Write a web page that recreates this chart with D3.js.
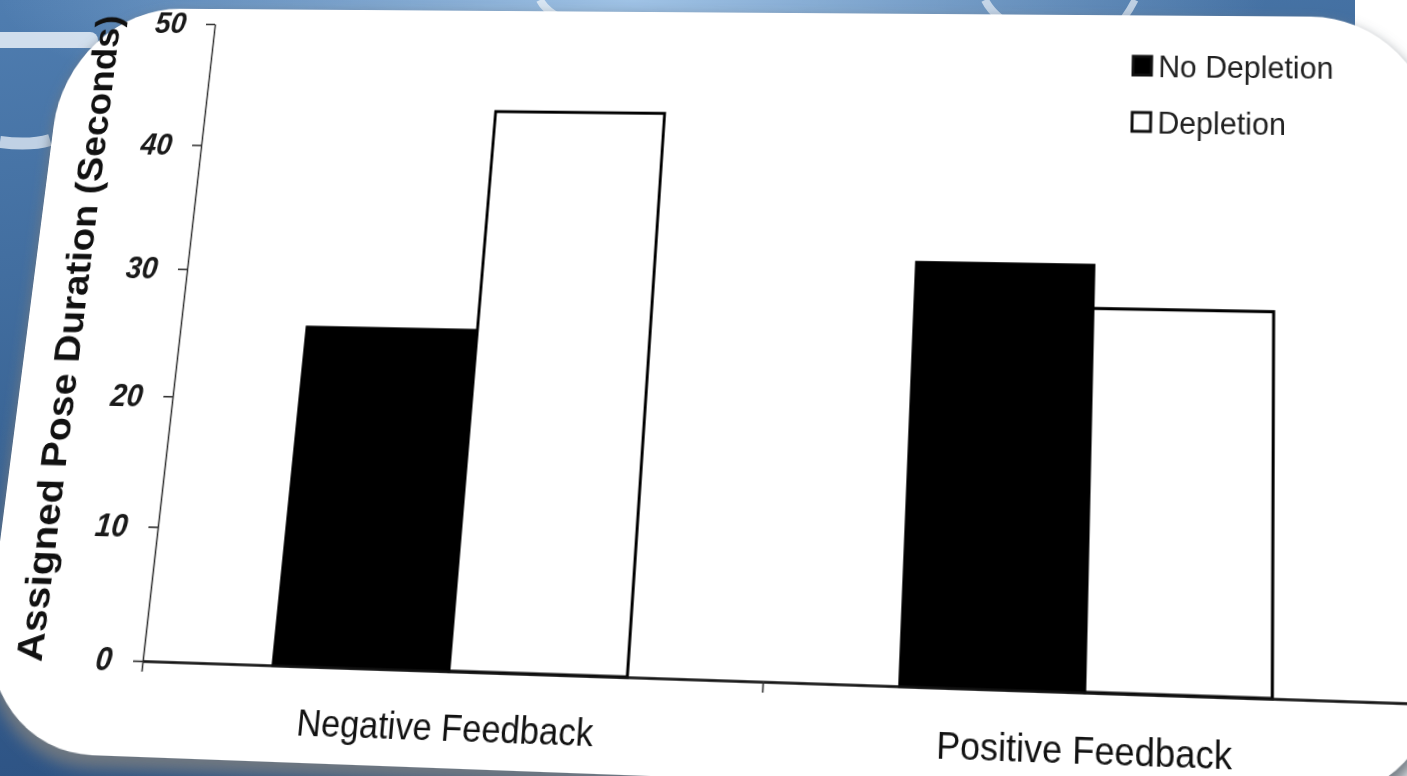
<!DOCTYPE html>
<html><head><meta charset="utf-8">
<script src="https://cdn.jsdelivr.net/npm/d3@7"></script>
<style>
html,body{margin:0;padding:0;width:1407px;height:776px;overflow:hidden;background:#fff}
#bg{position:absolute;left:0;top:0}
#chart{position:absolute;left:0;top:0;transform-origin:0 0}
text{font-family:"Liberation Sans",Arial,sans-serif}
</style></head><body>
<svg id="bg" width="1407" height="776"></svg>
<svg id="chart" width="1520" height="830"></svg>
<script>
// ---- data ----
const categories = ["Negative Feedback", "Positive Feedback"];
const series = ["No Depletion", "Depletion"];
const noDepletion = [25.6, 31.5];
const depletion = [43.0, 28.2];
const yTicks = [0, 10, 20, 30, 40, 50];
const yTitle = "Assigned Pose Duration (Seconds)";

// ---- background (unwarped) ----
const bg = d3.select("#bg");
const defsB = bg.append("defs");
const lg = defsB.append("linearGradient").attr("id", "bgGrad").attr("x1", 0).attr("y1", 0).attr("x2", 0.3).attr("y2", 1);
lg.append("stop").attr("offset", 0).attr("stop-color", "#4f7db0");
lg.append("stop").attr("offset", 0.5).attr("stop-color", "#3b6697");
lg.append("stop").attr("offset", 1).attr("stop-color", "#2c5182");
const rg = defsB.append("radialGradient").attr("id", "glow").attr("cx", 0.45).attr("cy", 0).attr("r", 0.45);
rg.append("stop").attr("offset", 0).attr("stop-color", "#a9cbec").attr("stop-opacity", 0.9);
rg.append("stop").attr("offset", 1).attr("stop-color", "#a9cbec").attr("stop-opacity", 0);
bg.append("rect").attr("width", 1407).attr("height", 776).attr("fill", "url(#bgGrad)");
bg.append("rect").attr("width", 1407).attr("height", 300).attr("fill", "url(#glow)");
bg.append("path").attr("d", "M0,40 H90").attr("stroke", "#dfe9f4").attr("stroke-width", 16).attr("stroke-linecap", "round").attr("fill", "none").attr("opacity", 0.9);
bg.append("path").attr("d", "M0,142 Q30,146 50,140").attr("stroke", "#dfe9f4").attr("stroke-width", 12).attr("fill", "none").attr("opacity", 0.8);
bg.append("path").attr("d", "M540,0 Q545,10 560,18").attr("stroke", "#e8f0f8").attr("stroke-width", 8).attr("fill", "none").attr("opacity", 0.8);
bg.append("path").attr("d", "M985,0 Q990,10 1000,18").attr("stroke", "#e8f0f8").attr("stroke-width", 8).attr("fill", "none").attr("opacity", 0.7);
bg.append("path").attr("d", "M1135,0 Q1130,10 1124,18").attr("stroke", "#e8f0f8").attr("stroke-width", 7).attr("fill", "none").attr("opacity", 0.7);
bg.append("rect").attr("x", 1355).attr("width", 52).attr("height", 776).attr("fill", "#ffffff");

// ---- chart in flat local space ----
const L = 200, R = 1468, T = 60, B = 697;   // plot box in local space
const svg = d3.select("#chart");
const defs = svg.append("defs");
const f = defs.append("filter").attr("id", "shadow").attr("x", -0.1).attr("y", -0.1).attr("width", 1.2).attr("height", 1.2);
f.append("feGaussianBlur").attr("stdDeviation", 7);

// card
svg.append("rect").attr("x", 34).attr("y", 50).attr("width", 1460).attr("height", 748)
  .attr("rx", 125).attr("fill", "#6e7780").attr("filter", "url(#shadow)");
svg.append("rect").attr("x", 34).attr("y", 44).attr("width", 1460).attr("height", 742)
  .attr("rx", 125).attr("fill", "#ffffff");

const y = d3.scaleLinear().domain([0, 50]).range([B, T]);
const x0 = d3.scaleBand().domain(categories).range([L, R]).paddingInner(0).paddingOuter(0);
const x1 = d3.scaleBand().domain(series).range([0, x0.bandwidth()]).paddingInner(0).paddingOuter(0.75);
const xLin = d3.scaleLinear().domain([0, categories.length]).range([L, R]);

// bars
const rows = categories.map((c, i) => ({ c, vals: [noDepletion[i], depletion[i]] }));
const g = svg.append("g").selectAll("g").data(rows).join("g")
  .attr("transform", d => `translate(${x0(d.c)},0)`);
g.selectAll("rect").data(d => d.vals.map((v, j) => ({ s: series[j], v })))
  .join("rect")
  .attr("x", d => x1(d.s))
  .attr("y", d => y(d.v))
  .attr("width", x1.bandwidth())
  .attr("height", d => y(0) - y(d.v))
  .attr("fill", d => d.s === "No Depletion" ? "#000" : "#fff")
  .attr("stroke", "#000")
  .attr("stroke-width", 3);

// y axis
const ya = svg.append("g").attr("transform", `translate(${L},0)`)
  .call(d3.axisLeft(y).tickValues(yTicks).tickSize(10).tickSizeOuter(0).tickPadding(22));
ya.select(".domain").attr("stroke", "#333").attr("stroke-width", 1.6);
ya.selectAll(".tick line").attr("stroke", "#333").attr("stroke-width", 1.6);
ya.selectAll(".tick text").attr("font-size", 31).attr("fill", "#1a1a1a").attr("font-weight", "bold")
  .attr("font-family", "Liberation Sans, Arial, sans-serif").attr("font-style", "italic");

// x axis
const xa = svg.append("g").attr("transform", `translate(0,${B})`)
  .call(d3.axisBottom(xLin).tickValues([0, 1, 2]).tickSize(10).tickSizeOuter(0).tickFormat(""));
xa.select(".domain").attr("stroke", "#111").attr("stroke-width", 2.6);
xa.selectAll(".tick line").attr("stroke", "#333").attr("stroke-width", 1.6);

// category labels
svg.append("g").selectAll("text").data(categories).join("text")
  .attr("x", d => x0(d) + x0.bandwidth() / 2)
  .attr("y", B + 64)
  .attr("text-anchor", "middle")
  .attr("font-size", 35)
  .attr("fill", "#111")
  .text(d => d);

// y title
svg.append("text")
  .attr("transform", `translate(${L - 106},${(T + B) / 2 - 2}) rotate(-90)`)
  .attr("text-anchor", "middle")
  .attr("font-size", 39)
  .attr("font-weight", "bold")
  .attr("fill", "#111")
  .text(yTitle);

// legend
const leg = svg.append("g").attr("transform", "translate(1187,96)");
const li = leg.selectAll("g").data(series).join("g").attr("transform", (d, i) => `translate(0,${i * 57})`);
li.append("rect").attr("x", 0).attr("y", -10).attr("width", 19).attr("height", 19)
  .attr("fill", d => d === "No Depletion" ? "#000" : "#fff").attr("stroke", "#111").attr("stroke-width", 3);
li.append("text").attr("x", 26).attr("y", 0).attr("dy", "0.36em").attr("font-size", 31).attr("fill", "#222").text(d => d);

// ---- perspective: map plot corners of local space onto the photographed quad ----
const srcPts = [[L, B], [L, T], [R, B], [R, T]];
const dstPts = [[142.7, 661], [215, 24], [1415, 703.5], [1408, 33]];
function solve(A, b) {
  const n = b.length;
  for (let i = 0; i < n; i++) {
    let p = i;
    for (let k = i + 1; k < n; k++) if (Math.abs(A[k][i]) > Math.abs(A[p][i])) p = k;
    [A[i], A[p]] = [A[p], A[i]]; [b[i], b[p]] = [b[p], b[i]];
    for (let k = i + 1; k < n; k++) {
      const m = A[k][i] / A[i][i];
      for (let j = i; j < n; j++) A[k][j] -= m * A[i][j];
      b[k] -= m * b[i];
    }
  }
  const xs = new Array(n).fill(0);
  for (let i = n - 1; i >= 0; i--) {
    let s = b[i];
    for (let j = i + 1; j < n; j++) s -= A[i][j] * xs[j];
    xs[i] = s / A[i][i];
  }
  return xs;
}
const A = [], bb = [];
srcPts.forEach(([sx, sy], i) => {
  const [u, v] = dstPts[i];
  A.push([sx, sy, 1, 0, 0, 0, -u * sx, -u * sy]); bb.push(u);
  A.push([0, 0, 0, sx, sy, 1, -v * sx, -v * sy]); bb.push(v);
});
const [a, b2, c, d, e, f2, gg, h] = solve(A, bb);
document.getElementById("chart").style.transform =
  `matrix3d(${a},${d},0,${gg},${b2},${e},0,${h},0,0,1,0,${c},${f2},0,1)`;
</script>
</body></html>
